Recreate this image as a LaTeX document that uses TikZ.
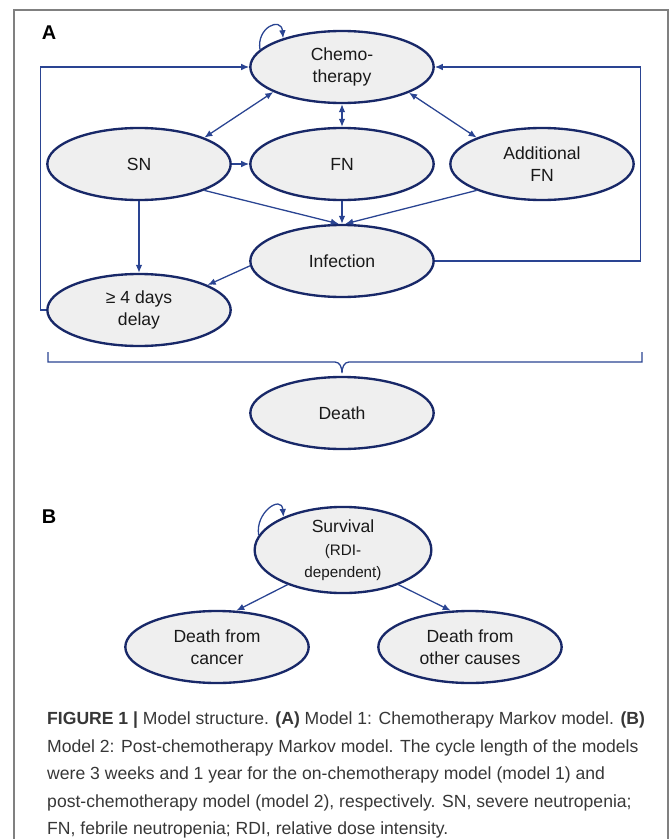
\documentclass[tikz,border=0pt]{standalone}
\usepackage{fontspec}
\setmainfont{Liberation Sans}
\usetikzlibrary{arrows.meta, shapes.geometric}
\definecolor{navy}{RGB}{24,40,104}
\definecolor{lnblue}{RGB}{42,68,146}
\definecolor{ellfill}{RGB}{239,239,239}
\definecolor{capgray}{RGB}{55,55,55}
\definecolor{framegray}{RGB}{128,128,128}
\newcommand{\smtxt}{\fontsize{13}{16}\selectfont}

\begin{document}
\begin{tikzpicture}[x=0.03cm, y=0.03cm, font=\fontsize{15}{18.7}\selectfont,
    ell/.style={ellipse, draw=navy, line width=2pt, fill=ellfill, minimum width=5.5cm, minimum height=2.16cm, inner sep=0pt, align=center, text=black!90},
    ln/.style={draw=lnblue, line width=1.1pt},
    con/.style={ln, -{Latex[length=0.24cm, width=0.2cm]}},
    bi/.style={ln, {Latex[length=0.24cm, width=0.2cm]}-{Latex[length=0.24cm, width=0.2cm]}}]
    \useasboundingbox (0,0) rectangle (669,-839);
    % frame of the figure
    \draw[framegray, line width=1.2pt] (14,-839) -- (14,-10) -- (668,-10) -- (668,-839);
    % model 1
    \node[font=\fontsize{17}{20}\selectfont\bfseries] (la) at (49,-33) {A};
    \node[ell] (ch) at (342,-67) {Chemo-\\therapy};
    \node[ell] (sn) at (139,-164) {SN};
    \node[ell] (fn) at (342,-164) {FN};
    \node[ell] (afn) at (542,-164) {Additional\\FN};
    \node[ell] (inf) at (342,-261) {Infection};
    \node[ell] (del) at (139,-310) {≥ 4 days\\delay};
    \node[ell] (dth) at (342,-413) {Death};
    \draw[con] (ch.168) to[out=100, in=95, looseness=2.2] (ch.154);
    \draw[bi] (ch.200) -- (sn.22); \draw[bi] (ch.south) -- (fn.north);
    \draw[bi] (ch.339) -- (afn.158); \draw[con] (sn.east) -- (fn.west);
    \draw[con] (sn.338) -- (inf.95); \draw[con] (fn.south) -- (inf.north);
    \draw[con] (afn.202) -- (inf.85); \draw[con] (sn.south) -- (del.north);
    \draw[con] (inf.183) -- (del.20);
    \draw[con] (del.west) -- ++(-6,0) |- (ch.west);
    \draw[con] (inf.east) -- ++(206,0) |- (ch.east);
    % brace towards death
    \draw[ln] (48,-352) |- (335,-362) to[out=0, in=90] (342,-373)
      to[out=90, in=180] (349,-362) -| (642,-352);
    % model 2
    \node[font=\fontsize{17}{20}\selectfont\bfseries] (lb) at (49,-517) {B};
    \node[ell, minimum width=5.3cm, minimum height=2.25cm] (sv) at (343,-550) {Survival\\[1pt]{\smtxt (RDI-}\\{\smtxt dependent)}};
    \node[ell] (dca) at (217,-647) {Death from\\cancer};
    \node[ell] (doc) at (470,-647) {Death from\\other causes};
    \draw[con] (sv.170) to[out=100, in=95, looseness=1.9] (sv.151);
    \draw[con] (sv.212) -- (dca.62); \draw[con] (sv.328) -- (doc.118);
    % caption
    \node[anchor=north west, align=left, inner sep=0pt, text=capgray, font=\fontsize{15}{23.4}\selectfont] (cap) at (47,-712)
      {\textbf{FIGURE 1 |} Model structure. \textbf{(A)} Model 1: Chemotherapy Markov model. \textbf{(B)}\\
       Model 2: Post-chemotherapy Markov model. The cycle length of the models\\
       were 3 weeks and 1 year for the on-chemotherapy model (model 1) and\\
       post-chemotherapy model (model 2), respectively. SN, severe neutropenia;\\
       FN, febrile neutropenia; RDI, relative dose intensity.};
  \end{tikzpicture}
\end{document}
